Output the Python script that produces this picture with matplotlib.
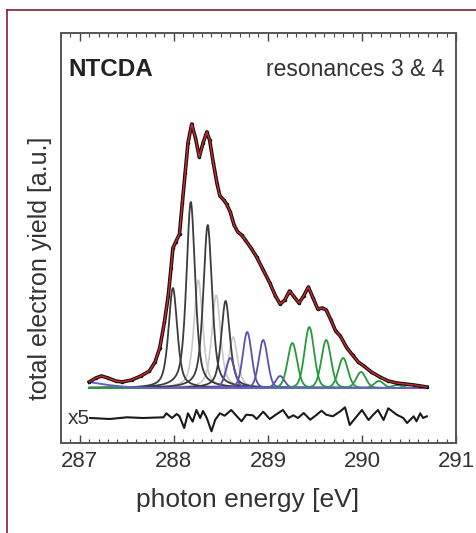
import numpy as np
import matplotlib.pyplot as plt
from matplotlib.lines import Line2D
from matplotlib.ticker import MultipleLocator

plt.rcParams['font.family'] = ['Liberation Sans', 'DejaVu Sans']

# measured spectrum (photon energy in eV, yield in a.u.)
energy = [287.10, 287.17, 287.23, 287.30, 287.38, 287.45, 287.55, 287.65, 287.74, 287.80,
          287.85, 287.90, 287.94, 287.97, 287.99, 288.02, 288.06, 288.09, 288.12, 288.15,
          288.19, 288.23, 288.27, 288.31, 288.35, 288.38, 288.42, 288.46, 288.49, 288.53,
          288.56, 288.60, 288.64, 288.68, 288.72, 288.76, 288.82, 288.88, 288.95, 289.02,
          289.08, 289.13, 289.18, 289.23, 289.28, 289.33, 289.38, 289.43, 289.48, 289.53,
          289.58, 289.62, 289.67, 289.72, 289.77, 289.84, 289.90, 289.96, 290.02, 290.10,
          290.19, 290.28, 290.37, 290.46, 290.55, 290.62, 290.69]
tey = [6, 10, 12, 10, 7, 6, 8, 12, 17, 26,
       40, 66, 92, 120, 140, 146, 154, 185, 215, 245,
       264, 250, 231, 245, 256, 248, 225, 204, 192, 188,
       184, 176, 163, 156, 153, 148, 140, 131, 118, 105,
       92, 84, 88, 97, 91, 85, 92, 101, 90, 79,
       80, 78, 68, 57, 52, 40, 33, 26, 22, 16,
       11, 7, 5, 4, 3, 2, 1]

# background
bg_energy = [287.10, 287.20, 287.30, 287.45, 287.60, 287.80, 290.70]
bg_level = [6, 4.5, 3, 1.5, 0.5, 0, 0]

# fit components: positions and heights
dark_pos = [287.99, 288.18, 288.36, 288.55]
dark_amp = [100, 186, 163, 87]
light_pos = [288.26, 288.45, 288.63]
light_amp = [108, 93, 51]
blue_pos = [288.60, 288.78, 288.95, 289.13]
blue_amp = [30, 56, 48, 12]
green_pos = [289.26, 289.44, 289.62, 289.80, 289.99, 290.18, 290.37]
green_amp = [45, 61, 48, 30, 16, 7, 3]

# residual (x5), deviations around its offset
res_energy = [287.11, 287.32, 287.50, 287.67, 287.89, 287.92, 287.98, 288.03, 288.06, 288.11,
              288.15, 288.20, 288.24, 288.28, 288.31, 288.35, 288.40, 288.44, 288.49, 288.54,
              288.61, 288.67, 288.72, 288.77, 288.84, 288.88, 288.95, 289.02, 289.09, 289.16,
              289.22, 289.27, 289.32, 289.38, 289.45, 289.52, 289.57, 289.62, 289.69, 289.77,
              289.82, 289.87, 289.93, 290.00, 290.07, 290.12, 290.17, 290.23, 290.28, 290.37,
              290.44, 290.48, 290.55, 290.58, 290.62, 290.65, 290.69]
res_dev = [0, -1, 0.7, 0, 0.7, 4.7, 0, 4, 1.7, -10,
           4.7, -3.7, 8, 0, 7, 0, -13.3, -1.7, 4.7, 2.3,
           8, 1.7, -3.3, 3.3, 2.7, -1, 6.3, -1, 3.7, 8,
           0, 2.7, 0, 5, -1.7, 3.3, 7.3, 3.3, 1.7, 6.7,
           10.7, -7, 0, 8, -2, 3.3, 8, -2, 9.7, 3.3,
           0, -5, 1.7, -3.3, 4.7, 0, 1.7]
res_offset = -30


def pvoigt(x, c, a, fwhm, eta):
    s = fwhm / 2.3548
    g = np.exp(-0.5 * ((x - c) / s) ** 2)
    lor = 1.0 / (1.0 + ((x - c) / (fwhm / 2)) ** 2)
    return a * (eta * lor + (1 - eta) * g)


fig = plt.figure(figsize=(4.77, 5.33), dpi=100)
ax = fig.add_axes([61 / 477, 1 - 443 / 533, 395 / 477, 410 / 533])

x = np.linspace(287.1, 290.7, 900)

for c, a in zip(light_pos, light_amp):
    ax.plot(x, pvoigt(x, c, a, 0.11, 0.6), color='#c9c9c9', lw=1.2)
for c, a in zip(dark_pos, dark_amp):
    ax.plot(x, pvoigt(x, c, a, 0.11, 0.6), color='#3c3c3c', lw=1.3)
for c, a in zip(blue_pos, blue_amp):
    ax.plot(x, pvoigt(x, c, a, 0.11, 0.2), color='#5b4fb5', lw=1.3)
for c, a in zip(green_pos, green_amp):
    ax.plot(x, pvoigt(x, c, a, 0.12, 0.2), color='#259a3c', lw=1.3)

ax.plot(bg_energy, bg_level, color='#6a5fd0', lw=1.4)

ax.plot(energy, tey, color='#111111', lw=2.6, marker='o', ms=1.5)
ax.plot(energy, tey, color='#d8262a', lw=1.0)

ax.plot(res_energy, np.array(res_dev) + res_offset, color='#1a1a1a', lw=1.5)
ax.text(286.87, res_offset, 'x5', fontsize=15, color='#333333', va='center', ha='left')

ax.set_xlim(286.8, 291.0)
ax.set_ylim(-55, 355)
ax.set_xticks([287, 288, 289, 290, 291])
ax.xaxis.set_minor_locator(MultipleLocator(0.1))
ax.set_yticks([])
ax.tick_params(axis='x', which='both', direction='in', top=True, bottom=True,
               colors='#444444', labelcolor='#333333', labelsize=16, pad=6)
ax.tick_params(axis='x', which='major', length=6, width=1)
ax.tick_params(axis='x', which='minor', length=3, width=0.8)
for sp in ax.spines.values():
    sp.set_color('#555555')
    sp.set_linewidth(1.4)

ax.text(0.018, 0.94, 'NTCDA', transform=ax.transAxes, fontsize=17.5, fontweight='bold',
        color='#222222', va='top', ha='left')
ax.text(0.97, 0.94, 'resonances 3 & 4', transform=ax.transAxes, fontsize=16.5,
        color='#333333', va='top', ha='right')

fig.text(248 / 477, 1 - 500 / 533, 'photon energy [eV]', fontsize=19, color='#333333',
         ha='center', va='center')
fig.text(40 / 477, 1 - 268 / 533, 'total electron yield [a.u.]', fontsize=18, color='#333333',
         ha='center', va='center', rotation=90)

# dark red frame lines on the page
fig.add_artist(Line2D([7 / 477, 1.0], [1 - 10 / 533, 1 - 10 / 533], color='#8c1c2c', lw=1.2))
fig.add_artist(Line2D([7 / 477, 7 / 477], [0, 1 - 10 / 533], color='#8c1c2c', lw=1.2))

fig.savefig('out.png', dpi=100)
